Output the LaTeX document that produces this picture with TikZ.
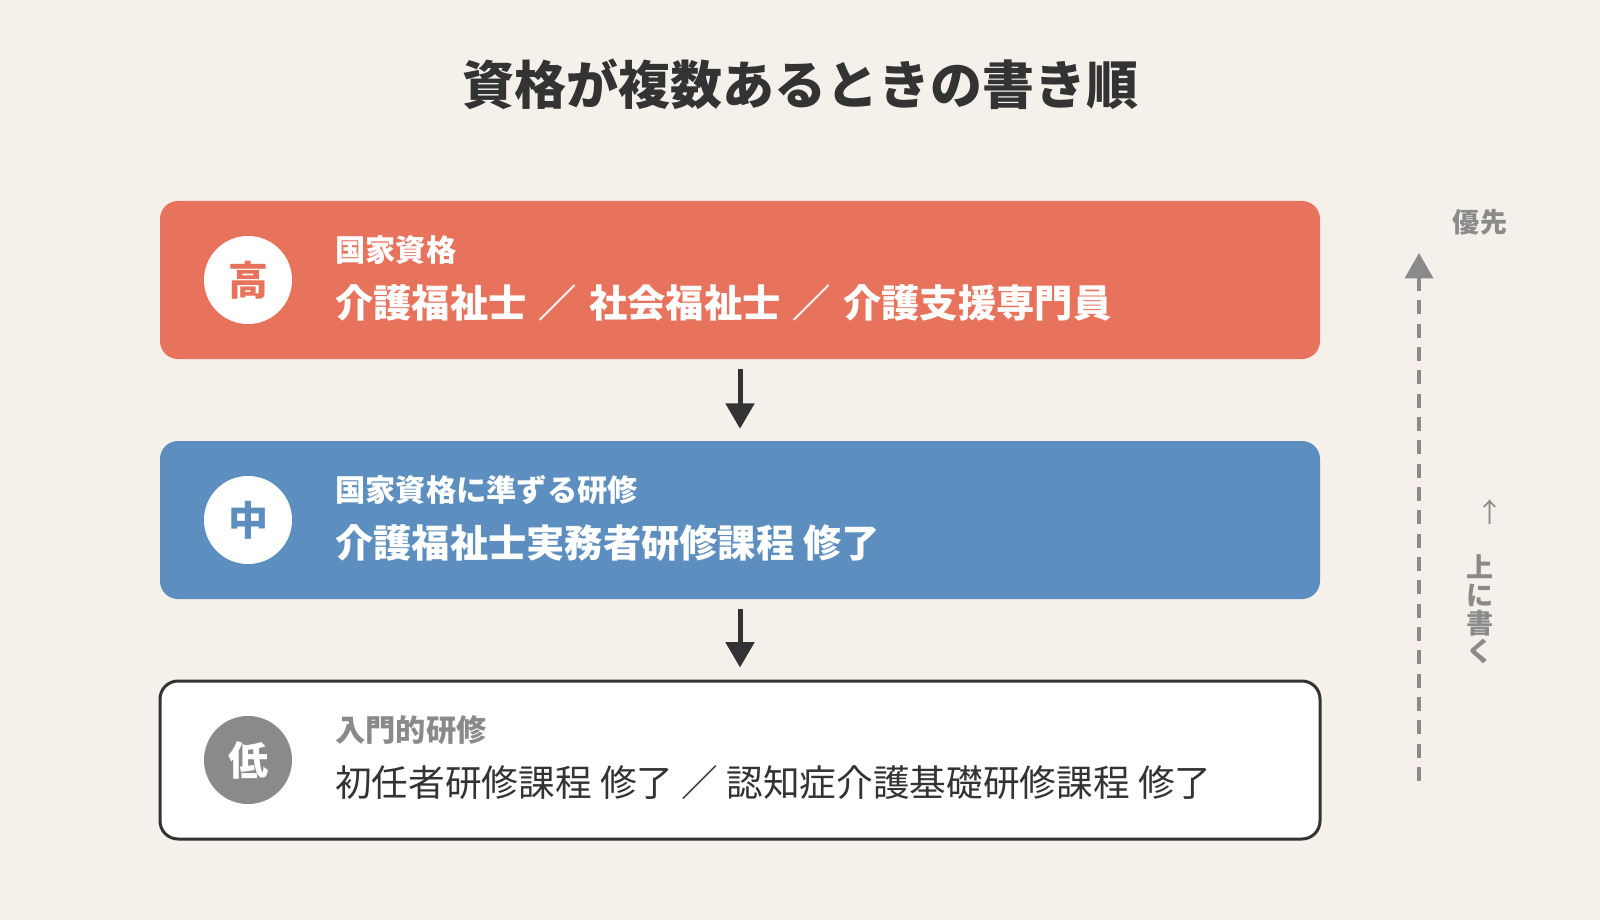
\documentclass[tikz,border=0pt]{standalone}
\usepackage{fontspec}
\setmainfont{Noto Sans CJK JP}
\usetikzlibrary{arrows.meta,positioning}
\definecolor{RankHigh}{RGB}{232,115,93}
\definecolor{RankMid}{RGB}{92,142,191}
\definecolor{RankLow}{RGB}{138,138,138}
\definecolor{PaperBg}{RGB}{245,240,234}
\definecolor{InkDark}{RGB}{51,51,51}
\newcommand\slashsep{\hspace{0.32em}／\hspace{0.32em}}

\begin{document}
\begin{tikzpicture}[x=0.75pt, y=-0.75pt,
    rankbox/.style={rectangle, rounded corners=13.5pt, minimum width=870pt, minimum height=118.5pt, inner sep=0pt},
    badge/.style={circle, minimum size=66pt, inner sep=0pt, font=\fontsize{30}{32}\selectfont\bfseries},
    sublabel/.style={anchor=west, inner sep=0pt, font=\fontsize{22.7}{25}\selectfont\bfseries},
    mainlabel/.style={anchor=west, inner sep=0pt, font=\fontsize{28.7}{31}\selectfont\bfseries},
    flowarrow/.style={-{Triangle[width=21pt, length=19pt]}, line width=3.75pt, InkDark},
    sidetext/.style={inner sep=0pt, text=RankLow, font=\fontsize{20.3}{21}\selectfont\bfseries}]
    \fill[PaperBg] (0,0) rectangle (1600,920);
    \useasboundingbox (0,0) rectangle (1600,920);

    \node[inner sep=0pt, text=InkDark, font=\fontsize{39}{42}\selectfont\bfseries] (title) at (800,84) {資格が複数あるときの書き順};

    % three ranks
    \node[rankbox, fill=RankHigh] (high) at (740,280) {};
    \node[rankbox, fill=RankMid] (mid) at (740,520) {};
    \node[rankbox, fill=white, draw=InkDark, line width=2.25pt] (low) at (740,760) {};

    \node[badge, fill=white, text=RankHigh] (highmark) at (248,280) {高};
    \node[badge, fill=white, text=RankMid] (midmark) at (248,520) {中};
    \node[badge, fill=RankLow, text=white] (lowmark) at (248,760) {低};

    \node[sublabel, text=white] (highsub) at (335,250) {国家資格};
    \node[mainlabel, text=white] (highmain) at (335,303) {介護福祉士\slashsep 社会福祉士\slashsep 介護支援専門員};
    \node[sublabel, text=white] (midsub) at (335,490) {国家資格に準ずる研修};
    \node[mainlabel, text=white] (midmain) at (335,543) {介護福祉士実務者研修課程 修了};
    \node[sublabel, text=RankLow] (lowsub) at (335,730) {入門的研修};
    \node[mainlabel, text=InkDark, font=\fontsize{27.5}{30}\selectfont\mdseries] (lowmain) at (335,783) {初任者研修課程 修了 ／ 認知症介護基礎研修課程 修了};

    \draw[flowarrow, shorten <=7.5pt, shorten >=9pt] (high) -- (mid);
    \draw[flowarrow, shorten <=7.5pt, shorten >=9pt] (mid) -- (low);

    % priority side
    \coordinate (prioBot) at (1419,781);
    \coordinate (prioTop) at (1419,253);
    \draw[-{Triangle[width=21pt, length=19pt]}, RankLow, line width=2.6pt, dash pattern=on 10.5pt off 7pt] (prioBot) -- (prioTop);
    \node[sidetext] (prio) at (1480,222) {優先};
    \node[sidetext, font=\fontsize{20.3}{21}\selectfont] (uparrow) at (1490,512) {↑};
    \node[sidetext, align=center] (writeup) at (1480,609) {上\\に\\書\\く};
\end{tikzpicture}
\end{document}
